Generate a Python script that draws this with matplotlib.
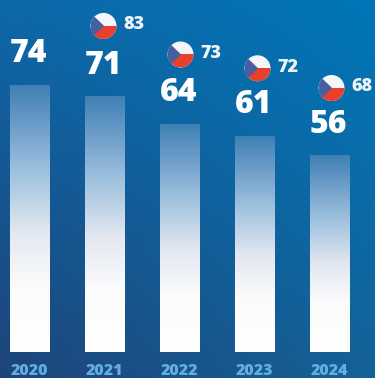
import matplotlib
matplotlib.use("Agg")
import matplotlib.pyplot as plt
from matplotlib.colors import LinearSegmentedColormap
from matplotlib.patches import Circle, Polygon, Rectangle
from matplotlib.transforms import Affine2D
import numpy as np

years = ["2020", "2021", "2022", "2023", "2024"]
values = [74, 71, 64, 61, 56]
cz_years = ["2021", "2022", "2023", "2024"]
cz_values = [83, 73, 72, 68]

plt.rcParams['font.family'] = ['Open Sans', 'DejaVu Sans']

W, H = 375, 378
fig = plt.figure(figsize=(W / 100, H / 100), dpi=100)
ax = fig.add_axes([0, 0, 1, 1])
ax.axis('off')

xlim = (-29.5 / 75, (W - 29.5) / 75)
ylim = (-0.36, 95.6)
base = ylim[0] + (378 - 352) / 3.94

# diagonal background
tl = np.array([14, 104, 168]) / 255
tr = np.array([0, 118, 184]) / 255
bl = np.array([30, 68, 122]) / 255
br = np.array([20, 98, 152]) / 255
u, v = np.meshgrid(np.linspace(0, 1, 200), np.linspace(0, 1, 200))
u, v = u[..., None], v[..., None]
bg = (1 - v) * ((1 - u) * tl + u * tr) + v * ((1 - u) * bl + u * br)
ax.imshow(bg, extent=(0, 1, 0, 1), transform=ax.transAxes, aspect='auto', zorder=0)

# blue to white fade on every bar
fade = LinearSegmentedColormap.from_list('fade', [
    (0.0, '#3f80b4'), (0.14, '#6a9bc8'), (0.32, '#9dc0de'),
    (0.55, '#e2e7f0'), (0.75, '#fbfbfc'), (1.0, '#ffffff')])
xpos = np.arange(len(years))
bars = ax.bar(xpos, np.array(values) - base, bottom=base, width=40 / 75, color='none', zorder=2)
for bar in bars:
    x0, y0, w, h = bar.get_x(), bar.get_y(), bar.get_width(), bar.get_height()
    ax.imshow(np.linspace(0, 1, 256)[:, None], cmap=fade, vmin=0, vmax=1,
              extent=(x0, x0 + w, y0, y0 + h), aspect='auto', zorder=2, interpolation='bilinear')
ax.set_xlim(xlim)
ax.set_ylim(ylim)

for x, val in zip(xpos, values):
    ax.annotate(str(val), (x, val), xytext=(-0.5, 15 * 0.72), textcoords='offset points',
                ha='center', va='bottom', color='white', fontsize=23, fontweight='heavy', zorder=3)
for x, yr in zip(xpos, years):
    ax.annotate(yr, (x, base), xytext=(0, -19 * 0.72), textcoords='offset points',
                ha='center', va='center', color='#62aee0', fontsize=11.5, fontweight='heavy', zorder=3)


def flag(cx, cy, r=13):
    # round czech flag, centre given in display px
    tr_ = Affine2D().scale(r).translate(cx, cy)
    circ = Circle((0, 0), 1, transform=tr_, fc='#f6f6fa', ec='none', zorder=4)
    ax.add_patch(circ)
    red = Rectangle((-1, -1), 2, 1, transform=tr_, fc='#ea3f2c', ec='none', zorder=4.1)
    blue = Polygon([(-1, 1), (0.05, 0), (-1, -1)], transform=tr_, fc='#46609f', ec='none', zorder=4.2)
    for p in (red, blue):
        ax.add_patch(p)
        p.set_clip_path(circ)


# flag height above the bar top and sideways shift, px
gaps = [71, 70, 68, 68]
shifts = [-1, 1, 3, 2]
for yr, val, gap, dx in zip(cz_years, cz_values, gaps, shifts):
    i = years.index(yr)
    px, py = ax.transData.transform((i, values[i]))
    flag(px + dx, py + gap)
    ax.text(px + dx + 30, py + gap + 1, str(val), transform=None, ha='center', va='center',
            color='#eef3f8', fontsize=13, fontweight='heavy', zorder=4)

fig.savefig('out.png', dpi=100)
